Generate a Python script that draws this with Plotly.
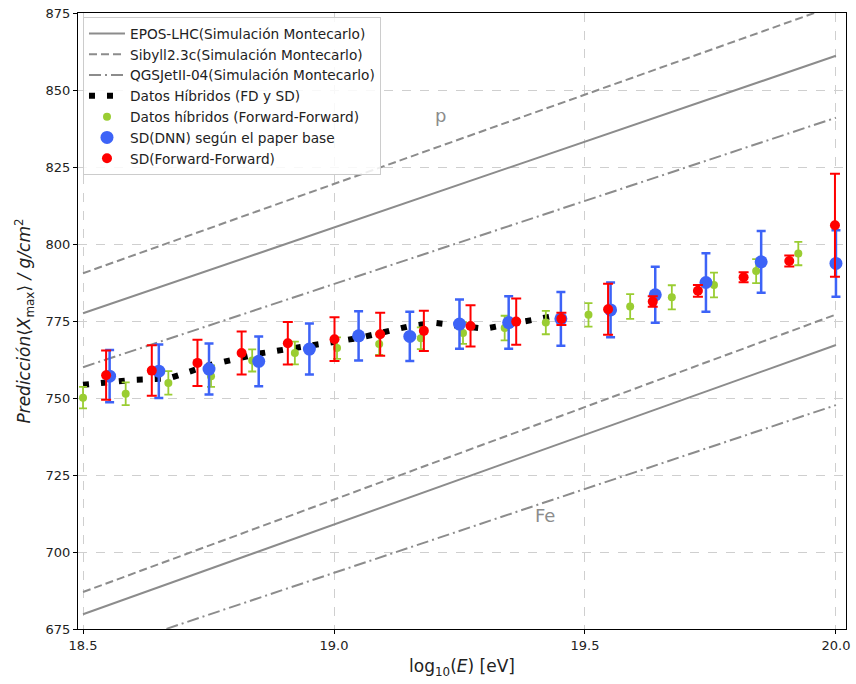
import plotly.graph_objects as go

# ---------------- data ----------------
e_ends = [18.5, 20.0]
epos_p = [777.5, 861.1]
sibyll_p = [790.5, 877.5]
qgs_p = [760.0, 841.0]
epos_fe = [679.8, 767.2]
sibyll_fe = [687.0, 777.1]
qgs_fe = [666.0, 747.7]

hyb_x = [18.50, 18.60, 18.67, 18.75, 18.85, 18.95, 19.05, 19.15, 19.20, 19.30, 19.40, 19.45]
hyb_y = [754.3, 755.9, 756.3, 760.6, 764.4, 767.1, 769.5, 773.3, 774.4, 772.5, 775.7, 777.0]

green_x = [18.50, 18.585, 18.67, 18.755, 18.837, 18.922, 19.006, 19.09, 19.173,
           19.257, 19.34, 19.422, 19.507, 19.59, 19.673, 19.757, 19.841, 19.925]
green_y = [750.1, 751.4, 754.9, 757.1, 762.2, 764.6, 766.2, 767.5, 769.4,
           771.1, 772.7, 774.5, 777.0, 779.7, 782.7, 786.7, 791.2, 796.9]
green_err = [3.5, 3.7, 3.8, 3.5, 3.6, 3.7, 3.5, 3.5, 3.5,
             3.5, 4.0, 3.8, 3.8, 4.0, 3.9, 4.0, 3.9, 3.8]

blue_x = [18.553, 18.651, 18.751, 18.850, 18.951, 19.049, 19.151, 19.250,
          19.348, 19.452, 19.551, 19.640, 19.741, 19.851, 20.0]
blue_y = [757.1, 758.7, 759.4, 761.9, 765.9, 770.2, 770.0, 774.0,
          774.5, 775.7, 778.6, 783.5, 787.5, 794.2, 793.7]
blue_err = [8.5, 8.7, 8.3, 8.1, 8.3, 8.0, 8.0, 8.0,
            8.5, 8.7, 8.9, 9.1, 9.5, 10.0, 10.8]

red_x = [18.546, 18.637, 18.728, 18.816, 18.908, 19.001, 19.092, 19.179, 19.272,
         19.363, 19.453, 19.546, 19.635, 19.725, 19.816, 19.907, 19.998]
red_y = [757.4, 758.9, 761.4, 764.6, 767.8, 769.1, 770.7, 771.8, 773.4,
         774.8, 775.7, 778.8, 781.3, 784.8, 789.2, 794.5, 806.1]
red_err_plus = [8.0, 8.2, 7.5, 7.0, 6.9, 7.1, 7.0, 6.5, 6.7,
                7.5, 2.0, 8.3, 1.7, 1.9, 1.6, 1.8, 16.7]
red_err_minus = [8.0, 8.2, 7.5, 7.0, 6.9, 7.1, 7.0, 6.5, 6.7,
                 7.5, 2.0, 8.3, 1.7, 1.9, 1.6, 1.8, 16.7]

x_ticks = [18.5, 19.0, 19.5, 20.0]
y_ticks = [675, 700, 725, 750, 775, 800, 825, 850, 875]

# ---------------- styles ----------------
GRAY = "#8c8c8c"
DASH = "8px,4px"
DASHDOT = "12px,4px,2px,4px"
FONT = "DejaVu Sans"

fig = go.Figure()

model_sets = [
    ("EPOS-LHC(Simulación Montecarlo)", epos_p, epos_fe, "solid"),
    ("Sibyll2.3c(Simulación Montecarlo)", sibyll_p, sibyll_fe, DASH),
    ("QGSJetII-04(Simulación Montecarlo)", qgs_p, qgs_fe, DASHDOT),
]
for name, yp, yfe, dash in model_sets:
    fig.add_trace(go.Scatter(x=e_ends, y=yp, mode="lines", name=name,
                             line=dict(color=GRAY, width=2, dash=dash)))
for name, yp, yfe, dash in model_sets:
    fig.add_trace(go.Scatter(x=e_ends, y=yfe, mode="lines", name=name, showlegend=False,
                             line=dict(color=GRAY, width=2, dash=dash)))

fig.add_trace(go.Scatter(x=hyb_x, y=hyb_y, mode="lines", name="Datos Híbridos (FD y SD)",
                         line=dict(color="black", width=6, dash="6px,12px")))

fig.add_trace(go.Scatter(
    x=green_x, y=green_y, mode="markers", name="Datos híbridos (Forward-Forward)",
    marker=dict(color="#9acd32", size=8),
    error_y=dict(type="data", array=green_err, color="#9acd32", thickness=1.8, width=4)))

fig.add_trace(go.Scatter(
    x=blue_x, y=blue_y, mode="markers", name="SD(DNN) según el paper base",
    marker=dict(color="#3d63f7", size=13),
    error_y=dict(type="data", array=blue_err, color="#3d63f7", thickness=2.5, width=4.5)))

fig.add_trace(go.Scatter(
    x=red_x, y=red_y, mode="markers", name="SD(Forward-Forward)",
    marker=dict(color="#ff0000", size=10),
    error_y=dict(type="data", array=red_err_plus, arrayminus=red_err_minus,
                 color="#ff0000", thickness=2, width=5)))

fig.add_annotation(x=19.213, y=841.7, text="p", showarrow=False,
                   font=dict(family=FONT, size=18, color=GRAY))
fig.add_annotation(x=19.421, y=711.8, text="Fe", showarrow=False,
                   font=dict(family=FONT, size=18, color=GRAY))

axis_common = dict(showline=True, linecolor="black", linewidth=1, mirror=True,
                   ticks="outside", ticklen=4, tickcolor="black",
                   showgrid=True, gridcolor="#cfcfcf", griddash="dash", gridwidth=1,
                   zeroline=False, tickfont=dict(family=FONT, size=13, color="#222"))

fig.update_layout(
    width=856, height=684,
    margin=dict(l=78, r=6, t=10, b=55),
    paper_bgcolor="white", plot_bgcolor="white",
    font=dict(family=FONT, color="#222"),
    xaxis=dict(range=[18.490, 20.020], tickvals=x_ticks,
               ticktext=[f"{v:.1f}" for v in x_ticks],
               title=dict(text="log<sub>10</sub>(<i>E</i>) [eV]",
                          font=dict(family=FONT, size=17, color="#222"), standoff=8),
               **axis_common),
    yaxis=dict(range=[675, 875], tickvals=y_ticks,
               title=dict(text="<i>Predicción</i>⟨<i>X</i><sub>max</sub>⟩ <i>/ g/cm</i><sup>2</sup>",
                          font=dict(family=FONT, size=17, color="#222"), standoff=10),
               **axis_common),
    legend=dict(x=0.0065, y=0.9935, xanchor="left", yanchor="top",
                bgcolor="rgba(255,255,255,0.85)", bordercolor="#cccccc", borderwidth=1,
                font=dict(family=FONT, size=13.7, color="#222"), tracegroupgap=0,
                itemwidth=36),
    showlegend=True,
)

fig.write_html("out.html")
